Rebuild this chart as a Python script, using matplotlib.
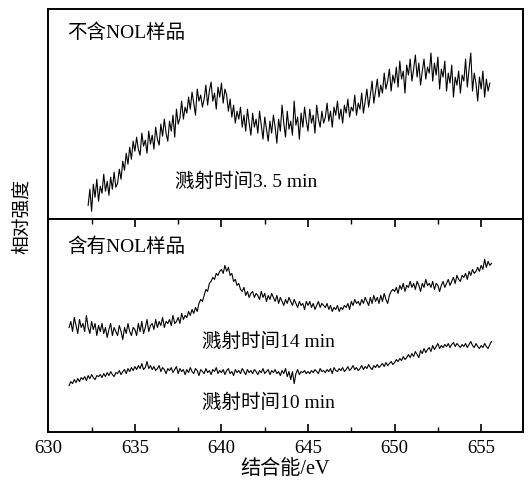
import numpy as np
import matplotlib
matplotlib.use("Agg")
import matplotlib.pyplot as plt
from matplotlib.ticker import MultipleLocator

plt.rcParams['font.family'] = ['Liberation Serif', 'Noto Sans CJK SC', 'DejaVu Sans']

# binding energy ranges (eV) of the three scans, sampled every 0.1 eV
top_start, top_stop = 632.3, 655.5
bot_start, bot_stop = 631.2, 655.6

# sputtering 3.5 min, sample without NOL (relative intensity)
top_35min = [
    14, 30, 8, 35, 22, 40, 18,
    33, 26, 45, 28, 38, 24, 42, 30, 47, 32,
    36, 50, 40, 58, 49, 66, 55, 72, 60, 78,
    68, 82, 70, 64, 86, 73, 79, 66, 88, 75,
    84, 70, 92, 80, 74, 95, 83, 100, 86, 78,
    98, 88, 104, 82, 110, 95, 101, 118, 100, 112,
    106, 122, 110, 127, 116, 104, 130, 118, 124, 112,
    120, 134, 114, 128, 137, 118, 126, 110, 132, 122,
    136, 116, 130, 124, 108, 120, 102, 114, 96, 108,
    100, 112, 92, 104, 88, 110, 96, 84, 106, 92,
    100, 86, 108, 94, 80, 102, 90, 78, 98, 86,
    104, 92, 76, 100, 88, 114, 96, 82, 108, 90,
    98, 84, 118, 94, 102, 80, 106, 92, 112, 98,
    88, 110, 96, 104, 86, 114, 100, 92, 108, 96,
    102, 116, 98, 108, 92, 112, 104, 118, 100, 110,
    96, 114, 106, 120, 102, 112, 108, 124, 104, 116,
    110, 126, 106, 118, 130, 112, 124, 138, 116, 128,
    140, 122, 134, 126, 146, 130, 138, 150, 128, 144,
    136, 152, 132, 158, 140, 148, 126, 154, 144, 160,
    138, 150, 164, 142, 156, 134, 148, 160, 140, 152,
    146, 166, 138, 156, 144, 162, 130, 150, 142, 158,
    128, 146, 136, 154, 122, 142, 134, 148, 126, 144,
    138, 160, 132, 150, 166, 128, 146, 136, 118, 142,
    130, 148, 122, 140, 128, 136,
]

# sputtering 14 min, sample with NOL
bot_14min = [
    104, 110, 100, 114, 106, 98, 112, 104,
    108, 100, 116, 104, 98, 110, 102, 108, 96, 106,
    100, 108, 98, 104, 94, 102, 108, 96, 104, 100,
    96, 106, 100, 92, 104, 98, 108, 100, 96, 104,
    102, 96, 108, 100, 110, 98, 104, 112, 100, 106,
    108, 102, 112, 104, 110, 106, 114, 104, 110, 108,
    112, 106, 116, 108, 110, 114, 108, 118, 112, 116,
    114, 120, 116, 122, 118, 124, 120, 128, 132, 130,
    136, 142, 140, 148, 150, 154, 152, 158, 156, 160,
    162, 158, 166, 160, 164, 156, 158, 150, 152, 146,
    148, 142, 140, 144, 136, 140, 134, 138, 140, 134,
    138, 136, 132, 140, 134, 138, 130, 136, 132, 138,
    134, 130, 136, 128, 134, 130, 126, 132, 128, 134,
    130, 126, 132, 128, 124, 130, 126, 128, 122, 130,
    126, 130, 124, 128, 122, 126, 130, 124, 128, 126,
    124, 128, 122, 126, 120, 124, 122, 126, 120, 124,
    122, 126, 124, 128, 122, 130, 126, 132, 128, 130,
    126, 132, 128, 134, 130, 126, 134, 128, 136, 130,
    134, 128, 136, 130, 138, 132, 128, 136, 140, 142,
    140, 144, 138, 146, 142, 148, 140, 146, 144, 150,
    144, 148, 142, 150, 146, 140, 148, 144, 152, 146,
    148, 144, 150, 142, 148, 146, 140, 146, 150, 144,
    148, 152, 146, 150, 154, 148, 156, 152, 150, 156,
    154, 158, 152, 160, 156, 162, 158, 160, 164, 160,
    166, 162, 172, 164, 170, 166, 168,
]

# sputtering 10 min, sample with NOL
bot_10min = [
    46, 50, 48, 52, 49, 53, 50, 54,
    52, 55, 51, 56, 53, 57, 54, 52, 56, 55,
    57, 54, 58, 55, 59, 56, 60, 57, 55, 59,
    58, 61, 57, 60, 62, 58, 63, 60, 64, 61,
    65, 62, 66, 63, 68, 62, 64, 70, 63, 66,
    62, 65, 61, 63, 66, 60, 64, 62, 58, 63,
    61, 64, 59, 62, 65, 58, 63, 60, 62, 57,
    62, 59, 64, 60, 58, 63, 61, 56, 62, 60,
    58, 63, 59, 61, 57, 62, 60, 64, 58, 61,
    59, 62, 57, 61, 63, 58, 60, 56, 62, 59,
    61, 58, 63, 60, 57, 62, 59, 61, 58, 62,
    60, 57, 61, 59, 63, 58, 60, 62, 57, 61,
    59, 62, 58, 60, 56, 61, 58, 63, 55, 60,
    52, 60, 48, 58, 62, 57, 60, 59, 61, 58,
    60, 58, 61, 59, 62, 60, 58, 63, 60, 61,
    59, 62, 60, 63, 58, 64, 61, 60, 63, 61,
    64, 60, 62, 65, 61, 63, 66, 62, 64, 61,
    63, 66, 62, 65, 63, 67, 64, 62, 66, 64,
    67, 64, 66, 68, 65, 69, 66, 68, 70, 67,
    69, 72, 70, 73, 71, 75, 72, 74, 77, 74,
    78, 75, 80, 77, 74, 81, 78, 83, 79, 82,
    84, 80, 86, 82, 85, 88, 83, 86, 84, 87,
    85, 88, 84, 87, 89, 85, 88, 86, 84, 87,
    85, 88, 84, 87, 90, 86, 84, 88, 85, 83,
    86, 84, 88, 85, 83, 87, 90,
]

x_top = np.linspace(top_start, top_stop, len(top_35min))
x_bot = np.linspace(bot_start, bot_stop, len(bot_14min))

fig = plt.figure(figsize=(5.31, 4.91), dpi=100)
ax_top = fig.add_axes([0.091, 0.5534, 0.8934, 0.4283])
ax_bot = fig.add_axes([0.091, 0.1208, 0.8934, 0.4326])

lw = 0.8
ax_top.plot(x_top, top_35min, color='black', lw=lw)
ax_bot.plot(x_bot, bot_14min, color='black', lw=lw)
ax_bot.plot(x_bot, bot_10min, color='black', lw=lw)

for ax in (ax_top, ax_bot):
    ax.set_xlim(630, 657.4)
    for s in ax.spines.values():
        s.set_linewidth(1.4)
    ax.set_yticks([])

ax_top.set_ylim(0, 210)
ax_bot.set_ylim(0, 212)
ax_top.set_xticks([])

ax_bot.xaxis.set_major_locator(MultipleLocator(5))
ax_bot.xaxis.set_minor_locator(MultipleLocator(2.5))
ax_bot.tick_params(axis='x', which='both', direction='in', top=True, bottom=True,
                   labelsize=13.5, pad=6)
ax_bot.tick_params(axis='x', which='major', length=6, width=1.2)
ax_bot.tick_params(axis='x', which='minor', length=3.5, width=1.0)

fs = 14
ax_top.text(0.039, 0.886, '不含NOL样品', transform=ax_top.transAxes, fontsize=fs, va='center')
ax_top.text(0.267, 0.177, '溅射时间3. 5 min', transform=ax_top.transAxes, fontsize=fs, va='center')
ax_bot.text(0.039, 0.870, '含有NOL样品', transform=ax_bot.transAxes, fontsize=fs, va='center')
ax_bot.text(0.324, 0.422, '溅射时间14 min', transform=ax_bot.transAxes, fontsize=fs, va='center')
ax_bot.text(0.324, 0.135, '溅射时间10 min', transform=ax_bot.transAxes, fontsize=fs, va='center')

fig.text(0.041, 0.56, '相对强度', rotation=90, fontsize=13.5, ha='center', va='center')
fig.text(0.537, 0.043, '结合能/eV', fontsize=14.5, ha='center', va='center')

fig.savefig('out.png', dpi=100)
